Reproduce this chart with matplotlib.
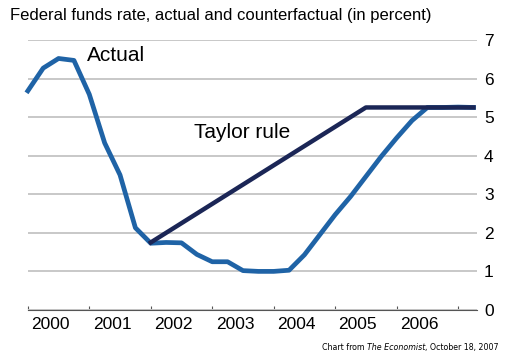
import numpy as np
import matplotlib
matplotlib.use('Agg')
import matplotlib.pyplot as plt
from matplotlib.ticker import FixedLocator, NullFormatter

plt.rcParams['font.family'] = ['Liberation Sans', 'DejaVu Sans']

# --- Dados (trimestrais, 2000T1 a 2007T2) ---
trimestres = np.arange(30) * 0.25 + 2000
atual = [5.68, 6.27, 6.52, 6.47, 5.59, 4.33, 3.50, 2.13,
         1.73, 1.75, 1.74, 1.44, 1.25, 1.25, 1.02, 1.00,
         1.00, 1.03, 1.43, 1.95, 2.47, 2.94, 3.46, 3.98,
         4.46, 4.91, 5.25, 5.25, 5.26, 5.25]
taylor = [1.75, 2.00, 2.25, 2.50, 2.75, 3.00, 3.25, 3.50,
          3.75, 4.00, 4.25, 4.50, 4.75, 5.00, 5.25, 5.25,
          5.25, 5.25, 5.25, 5.25, 5.25, 5.25]
anos = [2000, 2001, 2002, 2003, 2004, 2005, 2006]
y_ticks = [0, 1, 2, 3, 4, 5, 6, 7]

AZUL = '#1f63a6'
MARINHO = '#1b2656'

fig = plt.figure(figsize=(5.06, 3.6), dpi=100)
ax = fig.add_axes([0.055, 0.139, 0.888, 0.75])

ax.plot(trimestres, atual, color=AZUL, linewidth=3.4, solid_joinstyle='round', zorder=3, clip_on=False)
ax.plot(trimestres[8:], taylor, color=MARINHO, linewidth=3.2, zorder=4, clip_on=False)

ax.set_xlim(2000, 2007.31)
ax.set_ylim(0, 7)

# eixo y à direita, só linhas de grade
ax.yaxis.tick_right()
ax.set_yticks(y_ticks)
ax.set_yticklabels([str(v) for v in y_ticks], fontsize=12.5)
ax.tick_params(axis='y', length=0, pad=5)
ax.grid(axis='y', color='#c8c8c8', linewidth=1.4)
ax.set_axisbelow(True)

# eixo x: marcas nos limites dos anos, rótulos no meio
ax.xaxis.set_major_locator(FixedLocator([a for a in anos] + [2007]))
ax.xaxis.set_major_formatter(NullFormatter())
ax.xaxis.set_minor_locator(FixedLocator([a + 0.37 for a in anos]))
ax.set_xticklabels([str(a) for a in anos], minor=True, fontsize=12.5)
ax.tick_params(axis='x', which='major', direction='in', length=3, width=0.8, color='#555555')
ax.tick_params(axis='x', which='minor', length=0, pad=5)

for lado in ['top', 'right', 'left']:
    ax.spines[lado].set_visible(False)
ax.spines['bottom'].set_color('#555555')
ax.spines['bottom'].set_linewidth(0.8)

ax.text(2000.96, 6.6, 'Actual', fontsize=15, ha='left', va='center')
ax.text(2002.7, 4.6, 'Taylor rule', fontsize=15, ha='left', va='center')

fig.text(0.02, 0.958, 'Federal funds rate, actual and counterfactual (in percent)',
         fontsize=12, ha='left', va='center')

# fonte (condensada)
t3 = fig.text(0.985, 0.035, ', October 18, 2007', fontsize=6.3, ha='right', va='center',
              family='DejaVu Sans', stretch='condensed')
t2 = ax.annotate('The Economist', xy=(0, 0.5), xycoords=t3, fontsize=6.3, ha='right', va='center',
                 style='italic', family='DejaVu Sans', stretch='condensed')
ax.annotate('Chart from ', xy=(0, 0.5), xycoords=t2, fontsize=6.3, ha='right', va='center',
            family='DejaVu Sans', stretch='condensed')

plt.savefig('out.png', dpi=100)
plt.close()
